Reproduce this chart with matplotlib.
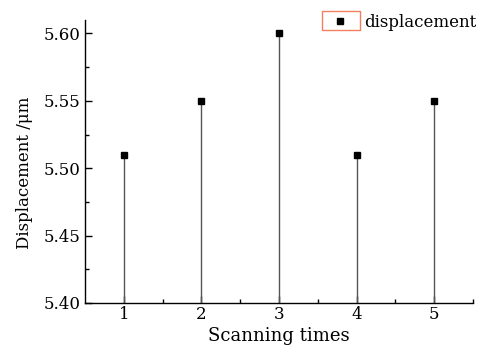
import matplotlib.pyplot as plt
from matplotlib.patches import Rectangle

# Data
scans = [1, 2, 3, 4, 5]
displacement = [5.51, 5.55, 5.60, 5.51, 5.55]
base = 5.40

plt.rcParams['font.family'] = 'DejaVu Serif'
plt.rcParams['font.size'] = 12

fig = plt.figure(figsize=(4.96, 3.5), dpi=100)
ax = fig.add_axes([0.1714, 0.1343, 0.7822, 0.8086])

# Stems and square markers
ax.vlines(scans, base, displacement, color='#555555', lw=1)
ax.plot(scans, displacement, 's', color='black', ms=4.5, label='displacement')

ax.set_xlim(0.5, 5.5)
ax.set_ylim(5.40, 5.61)
ax.set_xticks(scans)
ax.set_xticks([1.5, 2.5, 3.5, 4.5, 5.5], minor=True)
ax.set_yticks([5.40, 5.45, 5.50, 5.55, 5.60])
ax.set_yticks([5.425, 5.475, 5.525, 5.575], minor=True)
ax.set_yticklabels(['5.40', '5.45', '5.50', '5.55', '5.60'])
ax.tick_params(which='both', direction='in', width=1)
ax.tick_params(axis='x', pad=2)
ax.tick_params(axis='y', pad=3)
ax.tick_params(which='major', length=5)
ax.tick_params(which='minor', length=3)

for side in ['top', 'right']:
    ax.spines[side].set_visible(False)
for side in ['left', 'bottom']:
    ax.spines[side].set_linewidth(1)

ax.set_xlabel('Scanning times', fontsize=13)
ax.xaxis.set_label_coords(0.5, -0.085)
ax.set_ylabel('Displacement /\u03bcm', fontsize=12)
ax.yaxis.set_label_coords(-0.135, 0.46)

# Legend: marker boxed in a salmon frame, text outside
leg = ax.legend(loc='upper right', bbox_to_anchor=(1.025, 1.045), frameon=False,
                handlelength=2.2, handletextpad=0.3, borderaxespad=0)
fig.add_artist(Rectangle((0.649, 0.914), 0.077, 0.055, transform=fig.transFigure,
                         fill=False, edgecolor='#f08060', lw=1))

fig.savefig('out.png', dpi=100)
